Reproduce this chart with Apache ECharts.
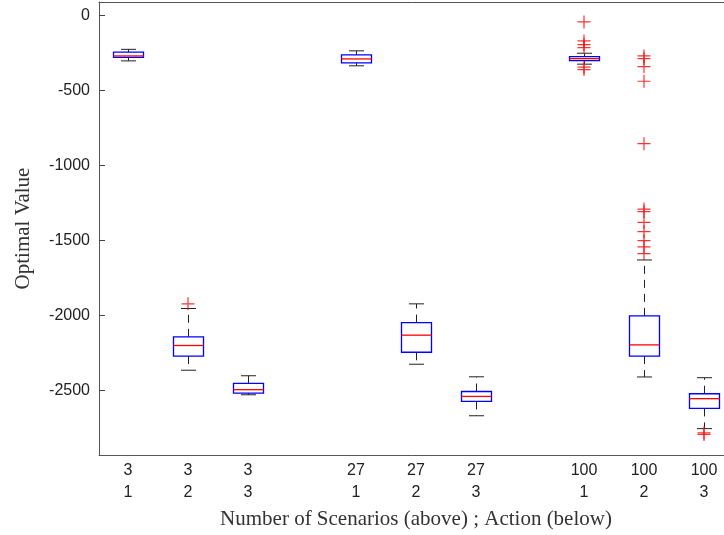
<!DOCTYPE html>
<html>
<head>
<meta charset="utf-8">
<script src="https://cdn.jsdelivr.net/npm/echarts@6/dist/echarts.min.js"></script>
<style>
  html, body { margin: 0; padding: 0; background: #fff; }
  #chart { width: 724px; height: 535px; }
</style>
</head>
<body>
<div id="chart"></div>
<script>
// scenario count (above) and action (below) for each box
var scenarios = ['3', '3', '3', '27', '27', '27', '100', '100', '100'];
var actions = ['1', '2', '3', '1', '2', '3', '1', '2', '3'];
var positions = [0, 1, 2, 3.8, 4.8, 5.8, 7.6, 8.6, 9.6];

var lowerWhisker = [-302, -2367, -2531, -335, -2327, -2671, -324, -2412, -2757];
var q1 = [-278, -2273, -2520, -315, -2247, -2575, -300, -2273, -2622];
var median = [-269, -2202, -2497, -289, -2133, -2542, -287, -2198, -2557];
var q3 = [-244, -2144, -2455, -262, -2049, -2509, -273, -2004, -2524];
var upperWhisker = [-225, -1955, -2404, -235, -1924, -2411, -251, -1631, -2417];

var outliers = [
  [],
  [-1924],
  [],
  [],
  [],
  [],
  [-42, -169, -193, -213, -344, -360],
  [-269, -287, -340, -438, -855, -1291, -1309, -1380, -1442, -1502, -1544, -1589],
  [-2785, -2796]
];

var yTicks = [0, -500, -1000, -1500, -2000, -2500];

var boxData = positions.map(function (p, i) {
  return [p, lowerWhisker[i], q1[i], median[i], q3[i], upperWhisker[i]];
});
var outlierData = [];
outliers.forEach(function (arr, i) {
  arr.forEach(function (v) { outlierData.push([positions[i], v]); });
});

var chart = echarts.init(document.getElementById('chart'));

function renderBox(params, api) {
  var x = api.value(0);
  var lw = api.coord([x, api.value(1)]);
  var b1 = api.coord([x, api.value(2)]);
  var md = api.coord([x, api.value(3)]);
  var b3 = api.coord([x, api.value(4)]);
  var uw = api.coord([x, api.value(5)]);
  var half = api.size([0.5, 0])[0] / 2;
  var capHalf = half / 2;
  var cx = Math.round(lw[0]) + 0.5;
  var whisk = { stroke: '#222', lineWidth: 1, lineDash: [8, 6] };
  var solid = { stroke: '#222', lineWidth: 1 };
  return {
    type: 'group',
    children: [
      { type: 'line', shape: { x1: cx, y1: b3[1], x2: cx, y2: uw[1] }, style: whisk },
      { type: 'line', shape: { x1: cx, y1: b1[1], x2: cx, y2: lw[1] }, style: whisk },
      { type: 'line', shape: { x1: cx - capHalf, y1: uw[1], x2: cx + capHalf, y2: uw[1] }, style: solid },
      { type: 'line', shape: { x1: cx - capHalf, y1: lw[1], x2: cx + capHalf, y2: lw[1] }, style: solid },
      { type: 'rect', shape: { x: cx - half, y: b3[1], width: half * 2, height: b1[1] - b3[1] },
        style: { fill: 'none', stroke: '#0000ff', lineWidth: 1.3 } },
      { type: 'line', shape: { x1: cx - half, y1: md[1], x2: cx + half, y2: md[1] },
        style: { stroke: '#ff0000', lineWidth: 1.3 } }
    ]
  };
}

var frameLine = { show: true, onZero: false, lineStyle: { color: '#555', width: 1 } };

var option = {
  animation: false,
  grid: {
    left: 99, top: 2, right: -9, bottom: 80,
    containLabel: false,
    outerBoundsMode: 'none',
    show: false
  },
  xAxis: [{
    type: 'value',
    min: -0.4833,
    max: 10.0833,
    splitLine: { show: false },
    axisLine: frameLine,
    axisTick: { show: false },
    axisLabel: {
      customValues: positions,
      margin: 5,
      fontFamily: 'Liberation Sans',
      fontSize: 16,
      lineHeight: 22,
      color: '#222',
      formatter: function (v) {
        var i = positions.indexOf(v);
        if (i < 0) return '';
        return scenarios[i] + '\n' + actions[i];
      }
    },
    name: 'Number of Scenarios (above) ; Action (below)',
    nameLocation: 'middle',
    nameGap: 54,
    nameTextStyle: { fontFamily: 'Liberation Serif', fontSize: 21, color: '#333' }
  }, {
    type: 'value',
    position: 'top',
    min: -0.4833,
    max: 10.0833,
    splitLine: { show: false },
    axisLine: frameLine,
    axisTick: { show: false },
    axisLabel: { show: false }
  }],
  yAxis: {
    type: 'value',
    min: -2933,
    max: 91,
    splitNumber: 6,
    splitLine: { show: false },
    axisLine: frameLine,
    axisTick: { show: true, inside: true, length: 6, lineStyle: { color: '#444', width: 1 } },
    axisLabel: {
      showMinLabel: false,
      showMaxLabel: false,
      margin: 9,
      fontFamily: 'Liberation Sans',
      fontSize: 16,
      color: '#222',
      formatter: function (v) { return yTicks.indexOf(v) >= 0 ? String(v) : ''; }
    },
    name: 'Optimal Value',
    nameLocation: 'middle',
    nameGap: 65,
    nameTextStyle: { fontFamily: 'Liberation Serif', fontSize: 21, color: '#333' }
  },
  series: [
    {
      type: 'custom',
      renderItem: renderBox,
      data: boxData,
      encode: { x: 0, y: [1, 2, 3, 4, 5] },
      silent: true
    },
    {
      type: 'scatter',
      data: outlierData,
      symbol: 'path://M6.35,0h1.3v14h-1.3z M0,6.35h14v1.3h-14z',
      symbolSize: 13,
      itemStyle: { color: '#ff0000' },
      silent: true
    }
  ]
};

chart.setOption(option);
</script>
</body>
</html>
